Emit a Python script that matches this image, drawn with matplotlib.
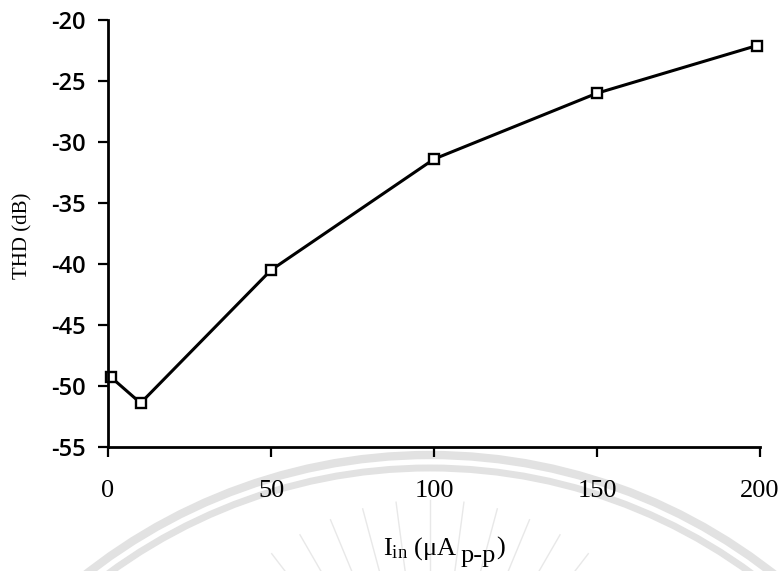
import matplotlib.pyplot as plt
import numpy as np
from matplotlib.patches import Arc

plt.rcParams['mathtext.fontset'] = 'custom'
plt.rcParams['mathtext.rm'] = 'Liberation Serif'
plt.rcParams['mathtext.it'] = 'Liberation Serif:italic'

# THD vs input current
i_in = [1, 10, 50, 100, 150, 199]
thd_db = [-49.3, -51.4, -40.5, -31.4, -26.0, -22.1]

x_ticks = [0, 50, 100, 150, 200]
y_ticks = [-55, -50, -45, -40, -35, -30, -25, -20]

W, H = 782, 571
fig = plt.figure(figsize=(W / 100, H / 100), dpi=100)

# faint watermark arcs in the background
bg = fig.add_axes([0, 0, 1, 1], zorder=0)
bg.set_xlim(0, W)
bg.set_ylim(H, 0)
bg.axis("off")
for r, w in [(556, 6), (543, 5)]:
    bg.add_patch(Arc((430, 1011), 2 * r, 2 * r, theta1=180, theta2=360,
                     color="#e2e2e2", lw=w))
for ang in np.linspace(-150, -30, 17):
    a = np.deg2rad(ang)
    bg.plot([430 + 150 * np.cos(a), 430 + 260 * np.cos(a)],
            [760 + 150 * np.sin(a), 760 + 260 * np.sin(a)],
            color="#e8e8e8", lw=1.0)

ax = fig.add_axes([108 / W, 1 - 447 / H, (760 - 108) / W, (447 - 20) / H], zorder=1)
ax.patch.set_alpha(0)
ax.plot(i_in, thd_db, color="black", lw=2.2, marker="s", markersize=7.5,
        markerfacecolor="white", markeredgecolor="black", markeredgewidth=1.7,
        clip_on=False)

ax.set_xlim(0, 200)
ax.set_ylim(-55, -20)
ax.set_xticks(x_ticks)
ax.set_yticks(y_ticks)
ax.set_xticklabels([str(v) for v in x_ticks], fontfamily="Liberation Serif", fontsize=19)
ax.set_yticklabels([str(v) for v in y_ticks], fontfamily="Open Sans", fontsize=17,
                   fontweight="semibold")

for side in ["top", "right"]:
    ax.spines[side].set_visible(False)
for side in ["left", "bottom"]:
    ax.spines[side].set_linewidth(2)
ax.tick_params(axis="x", direction="out", length=7, width=1.6, pad=17)
ax.tick_params(axis="y", direction="out", length=7, width=1.6, pad=9)

ax.set_ylabel("THD (dB)", fontfamily="Liberation Serif", fontsize=15)
ax.yaxis.set_label_coords(-0.116, 0.494)

# x label built from pieces so the p-p subscript stays full size
fig.canvas.draw()
renderer = fig.canvas.get_renderer()
x0, base = 383, 555
pieces = [(r"I$_{\mathrm{in}}$ (μA", 0), ("p-p", 7), (")", 0)]
for s, drop in pieces:
    t = fig.text(x0 / W, 1 - (base + drop) / H, s, fontfamily="Liberation Serif",
                 fontsize=19, va="baseline", ha="left")
    x0 = t.get_window_extent(renderer).x1 + (3 if s.endswith("A") else 0)

fig.savefig("out.png", dpi=100)
